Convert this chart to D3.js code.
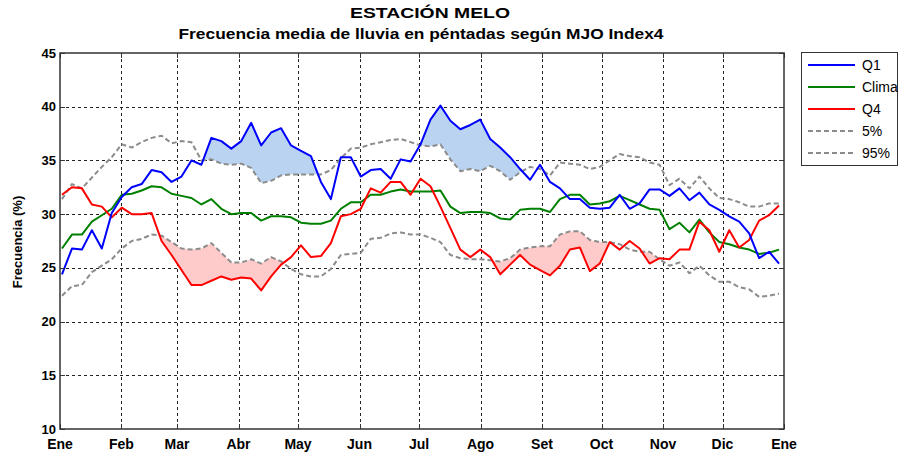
<!DOCTYPE html>
<html><head><meta charset="utf-8">
<script src="https://cdn.jsdelivr.net/npm/d3@7"></script>
<style>body{margin:0;background:#fff}</style>
</head><body>
<svg id="c" width="904" height="452"></svg>
<script>
// ---------- DATA ----------
const monthLabels = ["Ene","Feb","Mar","Abr","May","Jun","Jul","Ago","Set","Oct","Nov","Dic","Ene"];
const monthStartDays = [0,31,59,90,120,151,181,212,243,273,304,334,365];
const yTicks = [10,15,20,25,30,35,40,45];
const pentads = d3.range(1, 74);
const q1 = [24.4,26.8,26.7,28.5,26.8,30.1,31.6,32.5,32.8,34.1,33.9,33.0,33.5,35.0,34.6,37.1,36.8,36.1,36.8,38.5,
  36.4,37.6,38.0,36.4,35.9,35.4,33.0,31.4,35.3,35.3,33.5,34.1,34.2,33.3,35.1,34.9,36.5,38.8,40.1,38.7,
  37.9,38.3,38.8,37.0,36.2,35.3,34.2,33.2,34.6,33.0,32.4,31.4,31.4,30.6,30.5,30.6,31.8,30.5,31.0,32.3,
  32.3,31.7,32.4,31.3,32.0,30.9,30.4,29.8,29.3,28.2,25.9,26.5,25.4];
const clima = [26.8,28.1,28.1,29.3,29.9,30.5,31.8,31.9,32.2,32.6,32.5,31.9,31.7,31.5,30.9,31.4,30.5,30.0,30.1,30.1,
  29.4,29.8,29.8,29.7,29.2,29.1,29.1,29.4,30.5,31.1,31.1,31.8,31.8,32.1,32.3,32.1,32.1,32.1,32.2,30.7,
  30.1,30.2,30.2,30.1,29.6,29.5,30.4,30.5,30.5,30.2,31.4,31.8,31.8,30.9,31.0,31.2,31.7,31.3,30.9,30.5,
  30.4,28.6,29.2,28.3,29.5,28.3,27.4,27.2,26.9,26.7,26.3,26.4,26.7];
const q4 = [31.8,32.5,32.4,30.9,30.7,29.7,30.6,30.0,30.0,30.1,27.5,26.2,24.8,23.4,23.4,23.8,24.2,23.9,24.1,24.0,
  22.9,24.2,25.3,26.0,27.1,26.0,26.1,27.3,29.8,30.0,30.5,32.4,32.0,33.0,33.0,31.8,33.3,32.6,30.7,28.7,
  26.7,26.0,26.7,26.0,24.4,25.3,26.2,25.3,24.8,24.3,25.2,26.7,26.9,24.7,25.4,27.4,26.7,27.5,26.8,25.4,
  25.9,25.8,26.7,26.7,29.3,28.5,26.5,28.5,26.9,27.6,29.4,29.9,30.8];
const p5 = [22.4,23.3,23.4,24.6,25.2,25.8,26.8,27.5,27.7,28.1,28.0,27.4,26.8,26.7,26.8,27.3,26.4,25.5,25.5,25.8,
  25.4,26.0,25.6,24.9,24.4,24.2,24.2,24.9,26.2,26.3,26.4,27.7,27.8,28.2,28.3,28.1,28.1,27.8,27.4,26.2,
  25.9,25.8,25.8,25.7,25.6,25.9,26.7,26.9,27.0,27.0,28.1,28.4,28.4,27.6,27.4,27.4,27.2,26.7,26.5,26.5,
  25.8,25.2,25.5,24.5,25.2,24.3,23.7,23.7,23.2,23.0,22.3,22.4,22.6];
const p95 = [31.4,32.8,32.4,33.4,34.4,35.3,36.5,36.2,36.7,37.1,37.3,36.6,36.8,36.7,35.0,35.1,34.7,34.6,34.7,34.3,
  32.9,33.1,33.6,33.7,33.7,33.7,33.7,34.1,35.2,36.1,36.2,36.5,36.7,36.9,37.0,36.7,36.4,36.3,36.5,35.1,
  34.0,34.2,34.0,34.5,34.0,33.2,33.9,34.4,34.2,33.6,34.8,34.7,34.6,34.2,34.4,35.0,35.6,35.4,35.3,34.8,
  34.6,32.7,33.3,32.4,33.5,32.4,31.5,31.4,31.1,30.7,30.7,31.0,31.0];
// pentad index ranges (0-based) where the shading is drawn
const q1SigRanges = [[14,26],[35,47]];
const q4SigRanges = [[9,23],[43,55],[58,61]];
const legendLabels = ["Q1","Clima","Q4","5%","95%"];

// ---------- CHART ----------
const svg = d3.select("#c");
const L = 60, R = 784, T = 53, B = 429;
const font = "'Liberation Sans', Arial, sans-serif";
const x = d3.scaleLinear().domain([0,365]).range([L,R]);
const xp = d3.scaleLinear().domain([1,73]).range([x(1), x(362.5)]);
const y = d3.scaleLinear().domain([10,45]).range([B,T]);

svg.append("rect").attr("width",904).attr("height",452).attr("fill","#fff");

// grid
const grid = svg.append("g").attr("stroke","#222").attr("stroke-width",1).attr("stroke-dasharray","3,3");
grid.selectAll(".vg").data(monthStartDays.slice(1,-1)).join("line")
  .attr("x1",d=>Math.round(x(d))+0.5).attr("x2",d=>Math.round(x(d))+0.5).attr("y1",T).attr("y2",B);
grid.selectAll(".hg").data(yTicks.slice(1,-1)).join("line")
  .attr("y1",d=>Math.round(y(d))+0.5).attr("y2",d=>Math.round(y(d))+0.5).attr("x1",L).attr("x2",R);

// clip paths
const defs = svg.append("defs");
defs.append("clipPath").attr("id","above95").append("path")
  .attr("d", d3.area().x((d,i)=>xp(pentads[i])).y0(y(45)).y1((d)=>y(d))(p95));
defs.append("clipPath").attr("id","below5").append("path")
  .attr("d", d3.area().x((d,i)=>xp(pentads[i])).y0(y(10)).y1((d)=>y(d))(p5));

function rangeIdx(r){ return d3.range(r[0], r[1]+1); }
const fillQ1 = svg.append("g").attr("clip-path","url(#above95)");
q1SigRanges.forEach(r=>{
  fillQ1.append("path").attr("fill","#b9d3f1")
    .attr("d", d3.area().x(i=>xp(pentads[i])).y0(i=>y(p95[i])).y1(i=>y(q1[i]))(rangeIdx(r)));
});
const fillQ4 = svg.append("g").attr("clip-path","url(#below5)");
q4SigRanges.forEach(r=>{
  fillQ4.append("path").attr("fill","#ffcaca")
    .attr("d", d3.area().x(i=>xp(pentads[i])).y0(i=>y(p5[i])).y1(i=>y(q4[i]))(rangeIdx(r)));
});

// lines
const line = d3.line().x((d,i)=>xp(pentads[i])).y(d=>y(d));
const series = [
  {v:p5, c:"#8c8c8c", dash:"5,3"},
  {v:p95, c:"#8c8c8c", dash:"5,3"},
  {v:clima, c:"#008000"},
  {v:q4, c:"#ff0000"},
  {v:q1, c:"#0000ff"}
];
series.forEach(s=>{
  svg.append("path").attr("d", line(s.v)).attr("fill","none").attr("stroke",s.c)
    .attr("stroke-width",2).attr("stroke-linejoin","round")
    .attr("stroke-dasharray", s.dash||null);
});

// frame and ticks
svg.append("rect").attr("x",L).attr("y",T).attr("width",R-L).attr("height",B-T)
  .attr("fill","none").attr("stroke","#333").attr("stroke-width",1.5);
const tk = svg.append("g").attr("stroke","#333").attr("stroke-width",1);
monthStartDays.forEach(d=>{
  const xx = Math.round(x(d))+0.5;
  tk.append("line").attr("x1",xx).attr("x2",xx).attr("y1",B).attr("y2",B-5);
  tk.append("line").attr("x1",xx).attr("x2",xx).attr("y1",T).attr("y2",T+5);
});
yTicks.forEach(v=>{
  const yy = Math.round(y(v))+0.5;
  tk.append("line").attr("x1",L).attr("x2",L+5).attr("y1",yy).attr("y2",yy);
  tk.append("line").attr("x1",R).attr("x2",R-5).attr("y1",yy).attr("y2",yy);
});

// tick labels
svg.append("g").selectAll("text").data(monthLabels).join("text")
  .attr("x",(d,i)=>x(monthStartDays[i])).attr("y",449)
  .attr("text-anchor","middle").attr("font-family",font).attr("font-weight","bold")
  .attr("font-size",14).attr("fill","#000").text(d=>d);
svg.append("g").selectAll("text").data(yTicks).join("text")
  .attr("x",56).attr("y",d=>y(d)+4.5)
  .attr("text-anchor","end").attr("font-family",font).attr("font-weight","bold")
  .attr("font-size",13).attr("fill","#000").text(d=>d);

// titles
svg.append("text").attr("x",430).attr("y",18).attr("text-anchor","middle")
  .attr("font-family",font).attr("font-weight","bold").attr("font-size",15)
  .attr("textLength",160).attr("lengthAdjust","spacingAndGlyphs").text("ESTACIÓN MELO");
svg.append("text").attr("x",421).attr("y",39).attr("text-anchor","middle")
  .attr("font-family",font).attr("font-weight","bold").attr("font-size",15)
  .attr("textLength",485).attr("lengthAdjust","spacingAndGlyphs")
  .text("Frecuencia media de lluvia en péntadas según MJO Index4");
svg.append("text").attr("transform","translate(22,242) rotate(-90)").attr("text-anchor","middle")
  .attr("font-family",font).attr("font-weight","bold").attr("font-size",13).text("Frecuencia (%)");

// legend
const lg = svg.append("g");
lg.append("rect").attr("x",801.5).attr("y",52.5).attr("width",96).attr("height",113)
  .attr("fill","#fff").attr("stroke","#333").attr("stroke-width",1);
const legStyles = [series[4], series[2], series[3], series[0], series[1]];
legendLabels.forEach((lab,i)=>{
  const yy = 65 + i*22;
  lg.append("line").attr("x1",808).attr("x2",855).attr("y1",yy).attr("y2",yy)
    .attr("stroke",legStyles[i].c).attr("stroke-width",2)
    .attr("stroke-dasharray",legStyles[i].dash||null);
  lg.append("text").attr("x",862).attr("y",yy+5).attr("font-family",font)
    .attr("font-size",14).attr("fill","#000").text(lab);
});
</script>
</body></html>
